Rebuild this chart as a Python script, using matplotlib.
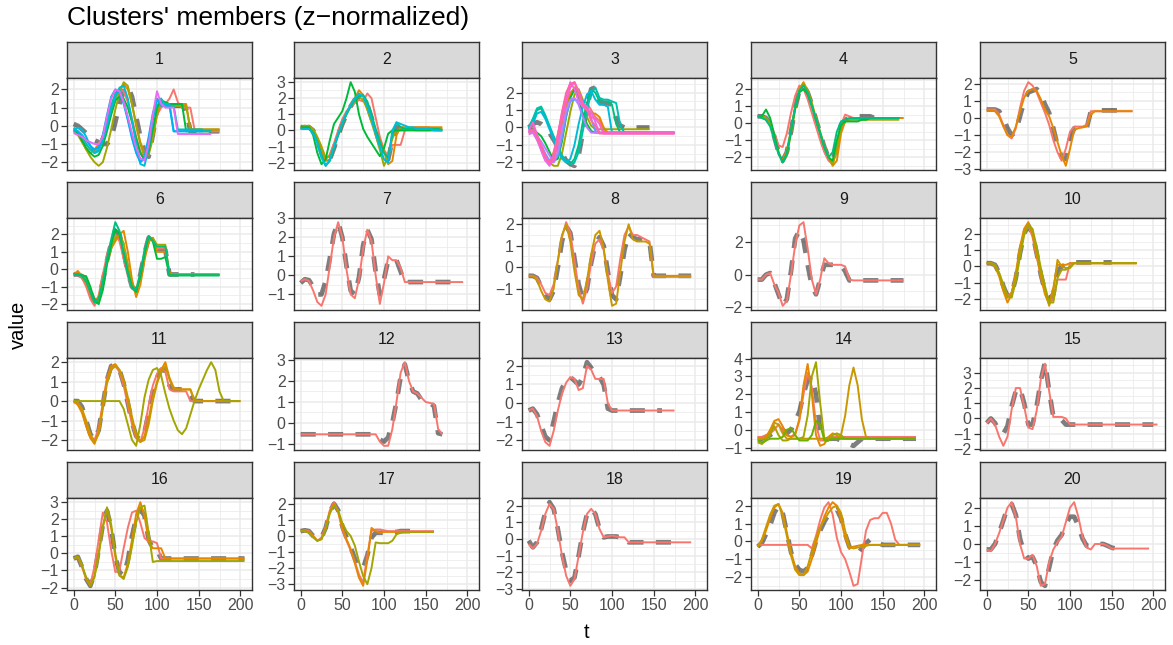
import matplotlib
matplotlib.use('Agg')
import matplotlib.pyplot as plt

plt.rcParams['font.family'] = ['Liberation Sans', 'DejaVu Sans']

# ggplot hue palette, series are coloured by their index inside a cluster
hue = ['#F8766D', '#E58700', '#C99800', '#A3A500', '#6BB100', '#00BA38', '#00BF7D', '#00C0AF',
       '#00BCD8', '#00B0F6', '#619CFF', '#B983FF', '#E76BF3', '#FD61D1', '#FF67A4']

STEP = 5  # one value every 5 time units, starting at t = 0

# ---- cluster 1
c1 = [0.1, 0.0, -0.2, -0.4, -0.6, -0.8, -0.9, -1.0, -1.0, -0.7, 0.2, 1.2, 1.9, 2.2, 1.6, 0.5, -0.6, -1.4,
      -1.7, -0.5, 0.9, 1.3, 1.2, 1.1, 1.1, 1.1, 1.1, 0.9, -0.3, -0.3, -0.3, -0.3, -0.3, -0.3, -0.3, -0.3]
m1 = [
    [-0.3, -0.4, -0.7, -1.0, -1.3, -1.4, -1.1, -0.5, 0.3, 1.1, 1.7, 2.0, 1.9, 1.3, 0.4, -0.6, -1.4, -1.8, -1.5,
     -0.5, 0.6, 1.0, 1.2, 1.5, 2.0, 1.3, 1.0, 1.0, 1.0, -0.2, -0.3, -0.3, -0.3, -0.3, -0.3, -0.3],
    [-0.2, -0.4, -0.8, -1.3, -1.5, -1.3, -1.0, -0.6, 0.0, 0.7, 1.4, 2.0, 2.3, 2.0, 1.2, 0.1, -0.9, -1.5, -1.4,
     -0.6, 0.6, 1.3, 1.2, 1.2, 1.2, 1.2, 1.2, 1.2, -0.2, -0.2, -0.2, -0.2, -0.2, -0.2, -0.2, -0.2],
    [-0.3, -0.5, -0.9, -1.3, -1.7, -2.0, -2.2, -2.0, -1.2, -0.2, 0.9, 1.8, 2.4, 2.2, 1.2, 0.0, -1.0, -1.7, -1.6,
     -0.7, 0.7, 1.4, 1.2, 1.1, 1.1, 1.1, 1.1, 1.1, -0.2, -0.2, -0.2, -0.2, -0.2, -0.2, -0.2, -0.2],
    [-0.2, -0.4, -0.8, -1.2, -1.5, -1.7, -1.6, -1.1, -0.3, 0.6, 1.4, 1.6, 1.5, 1.0, 0.2, -0.7, -1.5, -1.9, -1.4,
     -0.2, 1.0, 1.4, 1.3, 1.2, 1.2, 1.2, 1.2, -0.3, -0.3, -0.3, -0.3, -0.3, -0.3, -0.3],
    [-0.1, -0.3, -0.6, -1.0, -1.3, -1.5, -1.3, -0.7, 0.2, 1.1, 1.8, 2.0, 1.4, 0.4, -0.6, -1.4, -2.0, -1.8, -0.8,
     0.5, 1.4, 1.5, 1.1, 1.1, 1.1, -0.2, -0.2, -0.2, -0.2, -0.2, -0.2, -0.2],
    [-0.2, -0.1, -0.2, -0.6, -1.1, -1.5, -1.4, -0.8, 0.0, 0.9, 1.6, 2.1, 2.2, 1.5, 0.3, -1.0, -2.1, -2.2, -1.2,
     0.3, 1.4, 1.3, 1.2, 1.2, -0.3, -0.3, -0.3, -0.3, -0.3, -0.3, -0.3, -0.3, -0.3, -0.3],
    [-0.3, -0.3, -0.5, -0.8, -1.1, -1.3, -1.2, -0.5, 0.6, 1.6, 2.0, 1.8, 1.2, 0.3, -0.7, -1.5, -2.0, -1.7, -0.6,
     0.7, 1.5, 1.1, 1.1, 1.1, -0.3, -0.3, -0.3, -0.3, -0.3, -0.3, -0.3, -0.3],
    [-0.4, -0.5, -0.6, -0.8, -0.9, -1.0, -1.0, -0.6, 0.5, 1.5, 2.0, 1.9, 1.3, 0.5, -0.4, -1.2, -1.8, -1.9, -1.0,
     0.6, 1.9, 1.2, 1.0, 1.0, 1.0, -0.45, -0.45, -0.45, -0.45, -0.45, -0.45, -0.45, -0.45, -0.45],
]
k1 = [0, 1, 3, 5, 7, 8, 9, 12]
yt1 = [-2, -1, 0, 1, 2]

# ---- cluster 2
c2 = [0.2, 0.2, 0.2, 0.0, -0.6, -1.4, -2.0, -1.8, -1.1, -0.3, 0.4, 1.0, 1.5, 1.9, 2.1, 2.0, 1.6, 0.8, 0.0,
      -0.8, -1.5, -1.8, -0.6, 0.2, 0.1, 0.1, 0.1, 0.1, 0.1, 0.1, 0.1, 0.1, 0.1, 0.1, 0.1]
m2 = [
    [0.2, 0.2, 0.2, 0.0, -0.6, -1.3, -1.8, -1.5, -0.8, 0.0, 0.7, 1.2, 1.5, 1.7, 1.9, 1.8, 2.3, 2.0, 0.8, -0.4,
     -1.2, -1.6, -0.9, -0.9, -0.9, 0.0, 0.1, 0.1, 0.1, 0.1, 0.1, 0.1, 0.1, 0.1, 0.1],
    [0.2, 0.3, 0.2, 0.0, -0.5, -1.2, -1.9, -1.8, -1.0, -0.2, 0.5, 1.1, 1.6, 2.0, 2.5, 2.2, 1.6, 0.8, 0.0, -0.6,
     -1.3, -2.1, -1.9, -0.3, 0.2, 0.2, 0.2, 0.2, 0.2, 0.2, 0.2, 0.2, 0.2, 0.2, 0.2],
    [0.1, 0.2, 0.3, 0.1, -0.4, -1.0, -1.7, -1.6, -1.0, -0.3, 0.4, 1.0, 1.5, 1.9, 2.1, 1.9, 1.3, 0.5, -0.3, -1.2,
     -2.2, -1.6, -0.5, 0.0, 0.1, 0.1, 0.1, 0.1, 0.1, 0.1, 0.1, 0.1, 0.1, 0.1, 0.1],
    [0.2, 0.2, 0.2, -0.3, -1.4, -2.1, -1.8, -0.6, 0.4, 0.8, 1.2, 2.0, 3.0, 2.4, 1.0, 0.1, -0.4, -0.8, -1.2, -1.6,
     -1.1, -0.2, 0.0, 0.0, 0.0, 0.0, 0.0, 0.0, 0.0, 0.0, 0.0, 0.0, 0.0, 0.0, 0.0],
    [0.1, 0.1, 0.1, -0.1, -0.7, -1.5, -2.2, -1.9, -1.1, -0.3, 0.4, 1.0, 1.5, 1.9, 2.1, 2.2, 1.8, 1.0, 0.1, -0.7,
     -1.4, -1.7, -0.2, 0.5, 0.2, 0.1, 0.1, 0.1, 0.1, 0.1, 0.1, 0.1, 0.1, 0.1, 0.0],
    [0.1, 0.1, 0.1, -0.2, -0.8, -1.7, -2.2, -1.8, -1.0, -0.2, 0.5, 1.1, 1.6, 2.0, 2.3, 2.1, 1.5, 0.7, -0.2, -1.0,
     -1.8, -2.0, 0.0, 0.5, 0.4, 0.3, 0.2, 0.2, 0.1, 0.1, 0.1, 0.1, 0.0, 0.0, 0.0],
]
k2 = [0, 1, 3, 5, 6, 8]
yt2 = [-2, -1, 0, 1, 2, 3]

# ---- cluster 3
c3 = [0.0, 0.2, 0.3, 0.2, 0.0, -0.3, -0.7, -1.1, -1.5, -1.9, -2.1, -2.2, -1.6, -0.3, 1.2, 2.2, 2.3, 1.5,
      1.4, 1.4, 1.3, 0.5, 0.1, 0.0, 0.0, 0.0, 0.0, 0.0, 0.0, 0.0]
m3 = [
    [-0.3, 0.0, -0.6, -1.3, -1.9, -2.0, -1.4, -0.4, 0.7, 1.5, 2.0, 2.2, 1.8, 1.5, 1.4, 1.0, 0.6, 0.4, -0.2, -0.3,
     -0.3, -0.3, -0.3, -0.3, -0.3, -0.3, -0.3, -0.3, -0.3, -0.3, -0.3, -0.3, -0.3, -0.3, -0.3, -0.3],
    [-0.1, -0.2, -0.7, -1.2, -1.7, -2.0, -1.8, -1.0, 0.2, 1.2, 1.9, 2.3, 2.0, 1.4, 1.0, 0.8, 0.8, 0.6, 0.0, -0.3,
     -0.3, -0.3, -0.3, -0.3, -0.3, -0.3, -0.3, -0.3, -0.3, -0.3, -0.3, -0.3, -0.3, -0.3, -0.3, -0.3],
    [0.0, -0.2, -0.6, -1.1, -1.6, -2.0, -2.2, -2.2, -1.5, -0.3, 0.9, 1.9, 2.2, 1.6, 0.6, 0.1, -0.1, -0.1, -0.1,
     -0.1, -0.1, -0.1, -0.1, -0.1, -0.1, -0.1, -0.1, -0.1, -0.1, -0.1],
    [0.0, -0.1, -0.3, -0.5, -0.9, -1.4, -1.9, -1.8, -0.8, 0.6, 1.7, 2.2, 1.6, 0.8, 0.2, -0.2, -0.3, -0.3, -0.3,
     -0.3, -0.3, -0.3, -0.3, -0.3, -0.3, -0.3, -0.3, -0.3, -0.3, -0.3],
    [0.0, 0.4, 1.0, 1.1, 0.6, 0.0, -0.6, -1.2, -1.7, -2.0, -2.1, -1.8, -1.0, 0.3, 1.4, 2.2, 2.0, 1.5, 1.5, 1.5,
     1.3, 0.2, -0.3, -0.3, -0.3, -0.3, -0.3, -0.3, -0.3, -0.3, -0.3, -0.3, -0.3, -0.3, -0.3, -0.3],
    [0.0, 0.5, 1.1, 1.2, 0.7, 0.1, -0.5, -1.1, -1.6, -1.9, -2.1, -2.0, -1.4, -0.2, 1.0, 2.0, 2.3, 1.7, 1.6, 1.6,
     1.5, 1.4, 0.1, -0.3, -0.3, -0.3, -0.3, -0.3, -0.3, -0.3, -0.3, -0.3, -0.3, -0.3, -0.3, -0.3],
    [-0.1, 0.2, 0.8, 0.9, 0.5, -0.1, -0.7, -1.3, -1.8, -2.0, -1.8, -1.0, 0.2, 1.2, 1.9, 2.1, 1.6, 1.3, 1.3, 1.2,
     -0.3, -0.3, -0.3, -0.3, -0.3, -0.3, -0.3, -0.3, -0.3, -0.3, -0.3, -0.3, -0.3, -0.3, -0.3, -0.3],
    [-0.3, -0.2, -0.6, -1.0, -1.5, -1.9, -2.0, -1.6, -0.6, 0.7, 1.5, 1.6, 1.5, 1.4, 1.2, 0.5, -0.2, -0.3, -0.3,
     -0.3, -0.3, -0.3, -0.3, -0.3, -0.3, -0.3, -0.3, -0.3, -0.3, -0.3, -0.3, -0.3, -0.3, -0.3, -0.3, -0.3],
    [-0.2, -0.3, -0.5, -0.8, -1.2, -1.6, -2.0, -1.4, -0.2, 1.0, 1.6, 1.7, 1.3, 0.6, 0.0, -0.3, -0.3, -0.3, -0.3,
     -0.3, -0.3, -0.3, -0.3, -0.3, -0.3, -0.3, -0.3, -0.3, -0.3, -0.3, -0.3, -0.3, -0.3, -0.3, -0.3, -0.3],
    [-0.4, -0.3, -0.7, -1.3, -1.9, -2.2, -1.6, -0.4, 0.8, 1.8, 2.6, 2.2, 1.5, 1.2, 1.0, 0.9, 0.3, -0.3, -0.3,
     -0.3, -0.3, -0.3, -0.3, -0.3, -0.3, -0.3, -0.3, -0.3, -0.3, -0.3, -0.3, -0.3, -0.3, -0.3, -0.3, -0.3],
    [-0.2, 0.3, -0.4, -1.0, -1.6, -2.1, -1.9, -0.8, 0.5, 1.5, 2.3, 2.6, 2.1, 1.4, 1.2, 0.6, 0.5, 0.2, -0.35,
     -0.35, -0.35, -0.35, -0.35, -0.35, -0.35, -0.35, -0.35, -0.35, -0.35, -0.35, -0.35, -0.35, -0.35, -0.35,
     -0.35, -0.35],
    [-0.3, -0.1, -0.5, -1.1, -1.7, -2.0, -1.7, -0.5, 0.9, 2.0, 2.5, 2.6, 1.9, 1.3, 1.0, 0.4, 0.1, -0.35, -0.35,
     -0.35, -0.35, -0.35, -0.35, -0.35, -0.35, -0.35, -0.35, -0.35, -0.35, -0.35, -0.35, -0.35, -0.35, -0.35,
     -0.35, -0.35],
]
k3 = [0, 1, 3, 5, 6, 7, 8, 10, 11, 12, 13, 14]
yt3 = [-2, -1, 0, 1, 2]

# ---- cluster 4
c4 = [0.4, 0.4, 0.3, 0.0, -0.8, -1.7, -2.2, -1.7, -0.5, 0.9, 1.9, 2.2, 1.8, 1.1, 0.2, -0.6, -1.4, -2.0,
      -2.2, -1.3, -0.1, 0.2, 0.3, 0.4, 0.4, 0.4, 0.4, 0.4, 0.3, 0.3]
m4 = [
    [0.4, 0.4, 0.3, 0.0, -0.6, -1.3, -1.4, -0.6, 0.6, 1.6, 2.2, 2.0, 1.4, 0.6, -0.2, -1.0, -1.7, -2.2, -2.4,
     -1.5, -0.1, 0.5, 0.4, 0.3, 0.3, 0.3, 0.3, 0.3, 0.3, 0.3, 0.3, 0.3, 0.3, 0.3, 0.3, 0.3],
    [0.4, 0.4, 0.3, -0.1, -0.9, -1.8, -2.2, -1.6, -0.4, 0.9, 2.0, 2.4, 1.9, 1.1, 0.2, -0.6, -1.4, -2.0, -2.5,
     -2.2, -0.6, 0.1, 0.2, 0.3, 0.3, 0.3, 0.3, 0.3, 0.3, 0.3, 0.3, 0.3, 0.3, 0.3, 0.3, 0.3],
    [0.4, 0.4, 0.3, 0.0, -0.8, -1.7, -2.3, -1.9, -0.6, 0.8, 1.9, 2.3, 1.9, 1.2, 0.3, -0.5, -1.3, -2.0, -2.4,
     -1.6, -0.2, 0.1, 0.2, 0.2, 0.2, 0.2, 0.2, 0.2, 0.2, 0.2, 0.2, 0.2, 0.2, 0.2, 0.2],
    [0.4, 0.4, 0.8, 0.3, -0.7, -1.7, -2.3, -1.8, -0.5, 0.9, 1.8, 2.0, 1.7, 1.0, 0.2, -0.6, -1.4, -2.0, -2.2,
     -1.0, -0.1, 0.1, 0.1, 0.1, 0.1, 0.2, 0.2, 0.3, 0.3, 0.3, 0.3, 0.3, 0.3, 0.3, 0.3],
    [0.4, 0.3, 0.2, -0.2, -1.0, -1.8, -2.3, -1.8, -0.4, 1.0, 1.9, 2.2, 1.8, 1.0, 0.2, -0.6, -1.4, -2.0, -1.7,
     -0.5, 0.1, 0.2, 0.3, 0.3, 0.3, 0.3, 0.3, 0.3, 0.3, 0.3, 0.3, 0.3, 0.3, 0.3, 0.3],
]
k4 = [0, 1, 3, 5, 6]
yt4 = [-2, -1, 0, 1, 2]

# ---- cluster 5
c5 = [0.5, 0.5, 0.5, 0.4, 0.0, -0.6, -1.0, -0.8, 0.1, 1.0, 1.5, 1.6, 1.7, 1.4, 0.8, 0.3, -0.6, -1.6, -2.3,
      -2.4, -1.2, -0.6, -0.6, -0.6, -0.6, 0.4, 0.45, 0.45, 0.45, 0.45, 0.45, 0.45, 0.45, 0.45]
m5 = [
    [0.5, 0.5, 0.5, 0.2, -0.4, -1.0, -1.2, -0.6, 0.6, 1.6, 2.1, 1.9, 1.5, 0.9, 0.3, -0.4, -1.3, -2.0, -2.5,
     -1.8, -0.8, -0.5, -0.5, -0.5, -0.4, 0.4, 0.4, 0.4, 0.4, 0.4, 0.4, 0.4, 0.4, 0.4, 0.4, 0.4],
    [0.45, 0.45, 0.4, 0.1, -0.5, -1.0, -1.1, -0.5, 0.4, 1.2, 1.6, 1.7, 1.6, 1.1, 0.5, 0.1, -0.6, -1.4, -2.2,
     -2.8, -1.8, -0.7, -0.6, -0.55, -0.5, 0.2, 0.4, 0.4, 0.4, 0.4, 0.4, 0.4, 0.4, 0.4, 0.4, 0.4],
]
k5 = [0, 1]
yt5 = [-3, -2, -1, 0, 1, 2]

# ---- cluster 6
c6 = [-0.3, -0.3, -0.4, -0.7, -1.3, -1.9, -1.7, -0.7, 0.5, 1.5, 2.2, 2.0, 1.0, -0.2, -1.0, -1.2, -0.3, 0.9,
      1.8, 1.6, 1.1, 1.1, 1.1, -0.3, -0.3, -0.3, -0.3, -0.3, -0.3, -0.3]
m6 = [
    [-0.3, -0.3, -0.5, -1.0, -1.7, -2.1, -1.5, -0.3, 0.8, 1.6, 2.0, 1.6, 0.6, -0.4, -1.1, -1.2, -0.3, 1.0, 1.9,
     1.6, 1.2, 1.2, 1.2, -0.3, -0.3, -0.3, -0.3, -0.3, -0.3, -0.3, -0.3, -0.3, -0.3, -0.3, -0.3, -0.3],
    [-0.3, -0.1, -0.4, -0.8, -1.4, -1.9, -1.6, -0.6, 0.5, 1.2, 1.6, 2.0, 2.2, 1.0, -0.6, -1.6, -0.9, 0.5, 1.6,
     1.8, 1.0, 1.0, 1.0, -0.2, -0.3, -0.3, -0.3, -0.3, -0.3, -0.3, -0.3, -0.3, -0.3, -0.3, -0.3, -0.3],
    [-0.3, -0.3, -0.4, -0.5, -1.2, -1.9, -1.8, -0.9, 0.3, 1.2, 1.8, 2.0, 1.5, 0.2, -0.9, -1.3, -0.5, 0.8, 1.8,
     1.8, 1.4, 1.4, 1.4, -0.3, -0.3, -0.3, -0.3, -0.3, -0.3, -0.3, -0.3, -0.3, -0.3, -0.3, -0.3, -0.3],
    [-0.3, -0.3, -0.35, -0.4, -1.0, -1.8, -2.0, -1.2, 0.3, 1.4, 2.3, 2.0, 0.9, -0.2, -1.0, -1.3, -0.4, 0.9, 1.9,
     1.6, 0.6, 0.6, 0.7, -0.35, -0.35, -0.35, -0.35, -0.35, -0.35, -0.35, -0.35, -0.35, -0.35, -0.35, -0.35,
     -0.35],
    [-0.3, -0.3, -0.4, -0.7, -1.3, -1.9, -1.7, -0.7, 0.6, 1.7, 2.7, 2.2, 0.9, -0.3, -1.1, -1.2, -0.2, 1.1, 1.9,
     1.6, 1.3, 1.3, 1.3, -0.35, -0.35, -0.35, -0.35, -0.35, -0.35, -0.35, -0.35, -0.35, -0.35, -0.35, -0.35,
     -0.35],
]
k6 = [0, 1, 3, 5, 6]
yt6 = [-2, -1, 0, 1, 2, 3]

# ---- cluster 7
c7 = [-0.4, -0.2, -0.25, -0.6, -1.0, -1.0, -0.3, 0.9, 2.2, 2.8, 2.0, 0.5, -0.8, -1.0, -0.1, 1.6, 2.4, 1.9,
      0.2, -1.0, -0.2, 0.8, 0.8, 0.8, 0.2, -0.4, -0.35, -0.35, -0.35, -0.35, -0.35, -0.35, -0.35, -0.35,
      -0.35, -0.35, -0.35, -0.35, -0.35]
m7 = [
    [-0.3, -0.2, -0.3, -0.8, -1.4, -1.6, -1.0, 0.5, 2.0, 2.8, 2.0, 0.3, -1.0, -1.2, -0.2, 1.4, 2.4, 1.8, 0.0,
     -1.5, -0.4, 1.0, 0.8, 0.8, 0.4, -0.35, -0.35, -0.35, -0.35, -0.35, -0.35, -0.35, -0.35, -0.35, -0.35,
     -0.35, -0.35, -0.35, -0.35, -0.35],
]
k7 = [0]
yt7 = [-1, 0, 1, 2, 3]

# ---- cluster 8
c8 = [-0.4, -0.4, -0.5, -0.9, -1.3, -1.5, -1.1, 0.0, 1.2, 1.9, 1.6, 0.4, -0.8, -1.5, -1.0, 0.2, 1.1, 1.4,
      1.0, -0.2, -1.3, -1.5, -0.4, 0.8, 1.6, 1.4, 1.3, 1.3, 1.3, 1.2, -0.4, -0.4, -0.4, -0.4, -0.4, -0.4,
      -0.4, -0.4, -0.4, -0.4]
m8 = [
    [-0.4, -0.4, -0.5, -0.8, -1.2, -1.3, -0.8, 0.3, 1.4, 2.1, 1.6, 0.3, -1.0, -1.7, -1.0, 0.2, 1.1, 1.3, 0.8,
     -0.3, -1.2, -0.9, 0.4, 1.5, 1.9, 1.5, 1.5, 1.4, 1.3, 1.2, -0.45, -0.45, -0.45, -0.45, -0.45, -0.45, -0.45,
     -0.45, -0.45, -0.45],
    [-0.4, -0.4, -0.6, -1.1, -1.5, -1.6, -1.0, 0.3, 1.5, 2.0, 1.2, -0.2, -1.3, -1.5, -0.6, 0.6, 1.5, 1.7, 0.9,
     -0.6, -1.8, -1.7, -0.2, 1.2, 2.0, 1.3, 1.2, 1.2, 1.2, 1.1, -0.4, -0.4, -0.4, -0.4, -0.4, -0.4, -0.4, -0.4,
     -0.4, -0.4],
]
k8 = [0, 2]
yt8 = [-2, -1, 0, 1, 2]

# ---- cluster 9
c9 = [-0.3, -0.3, 0.0, 0.1, -0.5, -1.2, -1.9, -1.5, 0.2, 2.2, 2.7, 2.1, 0.6, -0.7, -1.2, -0.3, 0.6, 0.6,
      0.6, 0.6, 0.6, 0.2, -0.35, -0.35, -0.35, -0.35, -0.35, -0.35, -0.35, -0.35, -0.35, -0.35, -0.35,
      -0.35, -0.35, -0.35]
m9 = [
    [-0.3, -0.3, 0.0, 0.1, -0.6, -1.1, -1.9, -1.6, 0.0, 1.8, 3.0, 3.2, 1.6, -0.3, -1.2, -0.3, 1.0, 0.7, 0.6,
     0.6, 0.6, 0.5, -0.3, -0.35, -0.35, -0.35, -0.35, -0.35, -0.35, -0.35, -0.35, -0.35, -0.35, -0.35, -0.35,
     -0.35],
]
k9 = [0]
yt9 = [-2, 0, 2]

# ---- cluster 10
c10 = [0.2, 0.2, 0.1, -0.4, -1.2, -1.8, -1.7, -0.7, 0.8, 2.0, 2.5, 2.0, 0.8, -0.5, -1.5, -2.0, -1.7, -0.3,
       0.0, 0.1, 0.2, 0.25, 0.25, 0.25, 0.25, 0.25, 0.25, 0.25, 0.25, 0.25, 0.25]
m10 = [
    [0.2, 0.2, 0.1, -0.4, -1.2, -1.8, -1.6, -0.5, 1.0, 2.2, 2.5, 1.8, 0.6, -0.6, -1.6, -2.2, -2.0, -0.8, -0.8,
     -0.8, 0.2, 0.2, 0.2, 0.2, 0.2, 0.2, 0.2, 0.2, 0.2, 0.2, 0.2, 0.2, 0.2, 0.2, 0.2, 0.2, 0.2],
    [0.2, 0.2, 0.0, -0.6, -1.5, -2.2, -1.7, -0.4, 1.2, 2.3, 2.7, 2.0, 0.7, -0.6, -1.7, -2.3, -1.3, 0.1, 0.1,
     0.1, 0.2, 0.2, 0.2, 0.2, 0.2, 0.2, 0.2, 0.2, 0.2, 0.2, 0.2, 0.2, 0.2, 0.2, 0.2, 0.2, 0.2],
    [0.2, 0.2, 0.1, -0.5, -1.3, -1.9, -1.6, -0.6, 0.9, 2.1, 2.6, 2.1, 0.9, -0.4, -1.5, -2.4, -1.5, 0.4, 0.0,
     -0.1, -0.1, 0.2, 0.2, 0.2, 0.2, 0.2, 0.2, 0.2, 0.2, 0.2, 0.2, 0.2, 0.2, 0.2, 0.2, 0.2, 0.2],
    [0.2, 0.2, 0.1, -0.4, -1.1, -1.8, -1.9, -0.9, 0.6, 1.9, 2.5, 2.3, 1.2, -0.1, -1.2, -2.2, -2.2, -0.7, -0.2,
     -0.2, 0.0, 0.2, 0.2, 0.2, 0.2, 0.2, 0.2, 0.2, 0.2, 0.2, 0.2, 0.2, 0.2, 0.2, 0.2, 0.2, 0.2],
]
k10 = [0, 1, 2, 3]
yt10 = [-2, -1, 0, 1, 2]

# ---- cluster 11
c11 = [0.0, 0.0, -0.3, -1.0, -1.7, -2.0, -1.5, -0.2, 1.1, 1.8, 1.9, 1.6, 0.9, -0.1, -1.1, -1.8, -2.0, -1.6,
       -0.6, 0.5, 1.2, 1.6, 1.6, 0.8, 0.6, 0.6, 0.6, 0.6, 0.3, 0.0, 0.0, 0.0, 0.0, 0.0, 0.0, 0.0, 0.0, 0.0,
       0.0, 0.0, 0.0]
m11 = [
    [0.0, -0.1, -0.5, -1.2, -1.8, -2.0, -1.4, -0.1, 1.2, 1.7, 1.8, 1.5, 0.8, -0.2, -1.2, -1.9, -2.1, -1.4, -0.2,
     0.8, 1.4, 1.7, 1.5, 0.6, 0.5, 0.5, 0.5, 0.5, 0.0, 0.0, 0.0, 0.0, 0.0, 0.0, 0.0, 0.0, 0.0, 0.0, 0.0, 0.0,
     0.0],
    [0.0, -0.2, -0.6, -1.3, -1.9, -2.2, -1.6, -0.2, 1.1, 1.8, 1.9, 1.6, 1.0, 0.0, -1.0, -1.8, -2.1, -1.8, -0.9,
     0.2, 1.0, 1.6, 2.0, 1.2, 0.7, 0.6, 0.6, 0.6, 0.6, 0.0, 0.0, 0.0, 0.0, 0.0, 0.0, 0.0, 0.0, 0.0, 0.0, 0.0,
     0.0],
    [0.0, -0.1, -0.4, -1.0, -1.7, -2.1, -1.7, -0.4, 0.9, 1.6, 1.8, 1.6, 1.1, 0.2, -0.8, -1.7, -2.1, -2.0, -1.2,
     0.0, 0.9, 1.5, 1.8, 1.1, 0.6, 0.6, 0.6, 0.6, 0.6, 0.05, 0.0, 0.0, 0.0, 0.0, 0.0, 0.0, 0.0, 0.0, 0.0, 0.0,
     0.0],
    [0.0, 0.0, 0.0, 0.0, 0.0, 0.0, 0.0, 0.0, 0.0, 0.0, 0.0, 0.0, -0.4, -1.2, -2.0, -2.3, -1.2, 0.2, 1.1, 1.6,
     1.7, 1.3, 0.4, -0.4, -1.0, -1.5, -1.7, -1.4, -0.7, 0.0, 0.6, 1.1, 1.6, 2.0, 1.6, 0.5, 0.0, 0.0, 0.0, 0.0,
     0.0],
]
k11 = [0, 1, 2, 3]
yt11 = [-2, -1, 0, 1, 2]

# ---- cluster 12
c12 = [-0.55, -0.55, -0.55, -0.55, -0.55, -0.55, -0.55, -0.55, -0.55, -0.55, -0.55, -0.55, -0.55, -0.55,
       -0.55, -0.55, -0.55, -0.55, -0.55, -0.8, -0.9, -0.7, 0.0, 1.0, 2.2, 2.8, 2.0, 1.5, 1.4, 1.1, 1.0,
       0.95, 0.8, -0.5, -0.55]
m12 = [
    [-0.55, -0.55, -0.55, -0.55, -0.55, -0.55, -0.55, -0.55, -0.55, -0.55, -0.55, -0.55, -0.55, -0.55, -0.55,
     -0.55, -0.55, -0.55, -0.55, -0.9, -1.1, -1.1, -0.3, 1.0, 2.4, 2.9, 2.0, 1.5, 1.4, 1.2, 1.0, 0.95, 0.9,
     -0.3, -0.55],
]
k12 = [0]
yt12 = [-1, 0, 1, 2, 3]

# ---- cluster 13
c13 = [-0.4, -0.3, -0.6, -1.2, -1.8, -2.0, -1.0, 0.0, 0.8, 1.2, 1.4, 1.2, 1.0, 1.4, 2.2, 1.9, 1.5, 1.4,
       1.0, -0.3, -0.4, -0.4, -0.4, -0.4, -0.4, -0.4, -0.4, -0.4, -0.4, -0.4, -0.4, -0.4, -0.4]
m13 = [
    [-0.4, -0.3, -0.7, -1.5, -2.1, -2.3, -1.5, -0.4, 0.5, 1.1, 1.4, 1.3, 0.7, 0.8, 2.0, 1.8, 1.3, 1.3, 1.3, 0.0,
     -0.4, -0.4, -0.4, -0.4, -0.4, -0.4, -0.4, -0.4, -0.4, -0.4, -0.4, -0.4, -0.4, -0.4, -0.4, -0.4],
]
k13 = [0]
yt13 = [-2, -1, 0, 1, 2]

# ---- cluster 14
c14 = [-0.5, -0.5, -0.4, -0.3, -0.1, 0.1, 0.0, -0.2, 0.0, 0.5, 1.0, 2.0, 2.8, 3.0, 2.0, 0.0, -0.6, -0.5,
       -0.5, -0.5, -0.6, -0.7, -0.8, -0.9, -0.7, -0.5, -0.5, -0.5, -0.5, -0.5, -0.5, -0.5, -0.5, -0.5, -0.5,
       -0.5, -0.5, -0.5, -0.5]
m14 = [
    [-0.4, -0.4, -0.3, -0.2, 0.0, 0.3, 0.0, -0.3, -0.4, -0.2, 0.5, 2.0, 3.2, 2.4, 0.3, -0.6, -0.6, -0.5, -0.4,
     -0.4, -0.4, -0.4, -0.4, -0.4, -0.4, -0.4, -0.4, -0.4, -0.4, -0.4, -0.4, -0.4, -0.4, -0.4, -0.4, -0.4,
     -0.4, -0.4, -0.4],
    [-0.5, -0.5, -0.4, 0.0, 0.5, 0.6, 0.2, -0.3, -0.4, -0.3, 0.6, 2.5, 3.7, 2.0, -0.3, -0.9, -0.8, -0.4, -0.2,
     -0.3, -0.5, -0.5, -0.5, -0.5, -0.5, -0.5, -0.5, -0.5, -0.5, -0.5, -0.5, -0.5, -0.5, -0.5, -0.5, -0.5,
     -0.5, -0.5, -0.5],
    [-0.5, -0.5, -0.5, -0.3, 0.4, 0.3, -0.2, -0.5, -0.5, -0.5, -0.5, -0.5, -0.5, -0.5, -0.5, -0.5, -0.5, -0.5,
     -0.5, -0.5, -0.3, 0.8, 2.5, 3.5, 2.5, 0.6, -0.4, -0.5, -0.5, -0.5, -0.5, -0.5, -0.5, -0.5, -0.5, -0.5,
     -0.5, -0.5, -0.5],
    [-0.7, -0.8, -0.6, -0.2, 0.2, -0.3, -0.6, -0.6, -0.5, -0.5, -0.5, -0.4, 0.8, 3.0, 3.8, 1.5, -0.5, -0.6,
     -0.3, -0.2, -0.3, -0.5, -0.5, -0.5, -0.5, -0.5, -0.5, -0.5, -0.5, -0.5, -0.5, -0.5, -0.5, -0.5, -0.5,
     -0.5, -0.5, -0.5, -0.5],
    [-0.6, -0.7, -0.6, -0.5, -0.5, -0.5, -0.4, 0.0, 0.1, -0.3, -0.6, -0.6, -0.6, -0.3, 0.5, 0.3, -0.6, -0.6,
     -0.5, -0.5, -0.5, -0.5, -0.5, -0.5, -0.5, -0.5, -0.5, -0.5, -0.5, -0.5, -0.5, -0.5, -0.5, -0.5, -0.5,
     -0.5, -0.5, -0.5, -0.5],
]
k14 = [0, 1, 2, 3, 4]
yt14 = [-1, 0, 1, 2, 3, 4]

# ---- cluster 15
c15 = [-0.3, 0.0, -0.3, -0.8, -1.0, -0.5, 0.8, 1.8, 2.0, 1.0, -0.4, -0.4, 0.8, 2.5, 3.7, 1.8, 0.1, 0.1,
       -0.1, -0.4, -0.4, -0.4, -0.4, -0.4, -0.4, -0.4, -0.4, -0.4, -0.4, -0.4, -0.4, -0.4, -0.4, -0.4, -0.4,
       -0.4, -0.4, -0.4, -0.4, -0.4, -0.4]
m15 = [
    [-0.3, 0.0, -0.4, -1.2, -1.8, -1.2, 0.6, 2.0, 2.0, 0.8, -0.6, -0.7, 0.5, 2.6, 3.6, 1.8, 0.1, 0.1, 0.1, 0.0,
     -0.4, -0.4, -0.4, -0.4, -0.4, -0.4, -0.4, -0.4, -0.4, -0.4, -0.4, -0.4, -0.4, -0.4, -0.4, -0.4, -0.4,
     -0.4, -0.4, -0.4, -0.4, -0.4],
]
k15 = [0]
yt15 = [-2, -1, 0, 1, 2, 3]

# ---- cluster 16
c16 = [-0.3, -0.2, -0.8, -1.5, -1.9, -1.2, 0.2, 1.7, 2.5, 1.5, -0.2, -1.1, -1.3, -0.4, 1.0, 2.1, 2.6, 2.2,
       0.8, 0.3, 0.2, -0.3, -0.3, -0.3, -0.3, -0.3, -0.3, -0.3, -0.3, -0.3, -0.3, -0.3, -0.3, -0.3, -0.3,
       -0.3, -0.3, -0.3, -0.3, -0.3, -0.3, -0.3]
m16 = [
    [-0.3, -0.2, -0.8, -1.5, -1.8, -0.8, 0.8, 2.4, 1.8, 0.2, -1.1, -1.0, 0.3, 1.5, 2.4, 2.5, 1.8, 0.9, 0.7,
     0.7, 0.6, -0.3, -0.3, -0.3, -0.3, -0.3, -0.3, -0.3, -0.3, -0.3, -0.3, -0.3, -0.3, -0.3, -0.3, -0.3, -0.3,
     -0.3, -0.3, -0.3, -0.3, -0.3],
    [-0.3, -0.2, -0.7, -1.5, -1.9, -1.3, 0.0, 1.6, 2.6, 1.5, -0.2, -1.3, -1.4, -0.6, 0.8, 2.3, 3.0, 2.2, 0.7,
     0.3, 0.3, 0.3, -0.3, -0.3, -0.3, -0.3, -0.3, -0.3, -0.3, -0.3, -0.3, -0.3, -0.3, -0.3, -0.3, -0.3, -0.3,
     -0.3, -0.3, -0.3, -0.3, -0.3],
    [-0.3, -0.2, -0.7, -1.4, -1.9, -1.4, -0.1, 1.5, 2.7, 1.7, 0.0, -1.3, -1.5, -0.8, 0.4, 1.8, 2.7, 2.8, 1.2,
     -0.5, -0.45, -0.45, -0.45, -0.45, -0.45, -0.45, -0.45, -0.45, -0.45, -0.45, -0.45, -0.45, -0.45, -0.45,
     -0.45, -0.45, -0.45, -0.45, -0.45, -0.45, -0.45, -0.45],
]
k16 = [0, 1, 3]
yt16 = [-2, -1, 0, 1, 2, 3]

# ---- cluster 17
c17 = [0.3, 0.35, 0.3, 0.0, -0.2, -0.1, 0.5, 1.5, 2.0, 1.6, 0.6, -0.1, -0.7, -1.4, -2.0, -2.0, -1.2, -0.1,
       0.2, 0.2, 0.2, 0.25, 0.25, 0.25, 0.3, 0.3, 0.3, 0.3, 0.3, 0.3]
m17 = [
    [0.3, 0.35, 0.3, 0.0, -0.3, -0.1, 0.6, 1.6, 2.1, 1.5, 0.4, -0.3, -0.9, -1.6, -2.4, -2.9, -1.2, 0.3, 0.4,
     0.4, 0.35, 0.3, 0.3, 0.3, 0.3, 0.3, 0.3, 0.3, 0.3, 0.3, 0.3, 0.3, 0.3],
    [0.3, 0.3, 0.25, 0.0, -0.3, -0.2, 0.5, 1.5, 2.0, 1.5, 0.5, -0.2, -0.8, -1.7, -2.6, -3.1, -1.5, 0.5, 0.3,
     0.2, 0.25, 0.25, 0.25, 0.25, 0.25, 0.25, 0.25, 0.25, 0.25, 0.25, 0.25, 0.25, 0.25],
    [0.3, 0.3, 0.2, -0.1, -0.3, -0.2, 0.4, 1.4, 1.9, 1.6, 0.8, 0.3, 0.0, -0.6, -1.6, -2.5, -3.0, -2.0, -0.4,
     -0.45, -0.45, -0.45, -0.3, 0.1, 0.2, 0.25, 0.25, 0.25, 0.25, 0.25, 0.25, 0.25, 0.25],
]
k17 = [0, 1, 3]
yt17 = [-3, -2, -1, 0, 1, 2]

# ---- cluster 18
c18 = [-0.1, -0.5, -0.2, 0.6, 1.6, 2.2, 1.8, 0.6, -0.8, -1.9, -2.5, -2.3, -1.0, 0.4, 1.5, 1.8, 1.5, 0.6,
       0.1, 0.15, 0.15, 0.15, 0.1, 0.1, -0.2, -0.2, -0.2, -0.2, -0.2, -0.2, -0.2, -0.2, -0.2, -0.2, -0.2,
       -0.2]
m18 = [
    [-0.3, -0.55, -0.3, 0.5, 1.5, 2.1, 1.8, 0.5, -1.0, -2.2, -2.8, -2.4, -1.0, 0.4, 1.5, 1.8, 1.5, 0.6, 0.1,
     0.15, 0.2, 0.15, 0.1, 0.1, -0.2, -0.2, -0.2, -0.2, -0.2, -0.2, -0.2, -0.2, -0.2, -0.2, -0.2, -0.2, -0.2,
     -0.2, -0.2, -0.2],
]
k18 = [0]
yt18 = [-3, -2, -1, 0, 1, 2]

# ---- cluster 19
c19 = [-0.3, -0.1, 0.4, 0.9, 1.6, 2.0, 1.6, 0.5, -0.6, -1.3, -1.6, -1.7, -1.5, -0.8, 0.0, 0.6, 1.1, 1.5,
       1.7, 1.8, 1.3, 0.4, -0.3, -0.6, -0.7, -0.4, -0.1, 0.1, 0.1, -0.1, -0.2, -0.2, -0.2, -0.2, -0.2, -0.2,
       -0.2, -0.2, -0.2, -0.2]
m19 = [
    [-0.2, -0.2, -0.2, -0.2, -0.2, -0.2, -0.2, -0.2, -0.2, -0.2, -0.2, -0.2, -0.2, -0.4, 0.3, 1.2, 1.9, 2.2,
     1.5, 0.2, -0.6, -1.0, -1.7, -2.5, -2.4, -0.9, 0.6, 1.2, 1.3, 1.3, 1.6, 1.6, 1.0, 0.1, -0.2, -0.2, -0.2,
     -0.2, -0.2, -0.2],
    [-0.3, 0.0, 0.6, 1.3, 1.9, 2.1, 1.6, 0.5, -0.6, -1.4, -1.8, -1.9, -1.7, -1.0, -0.1, 0.7, 1.4, 1.9, 2.2, 2.0,
     1.2, 0.2, -0.4, -0.3, -0.25, -0.2, -0.2, -0.2, -0.2, -0.2, -0.2, -0.2, -0.2, -0.2, -0.2, -0.2, -0.2,
     -0.2, -0.2, -0.2],
    [-0.3, 0.1, 0.8, 1.5, 2.0, 2.1, 1.4, 0.3, -0.8, -1.6, -1.9, -1.9, -1.4, -0.6, 0.2, 0.8, 1.2, 1.6, 1.9, 2.0,
     1.6, 0.6, -0.3, -0.4, -0.35, -0.3, -0.25, -0.2, -0.2, -0.2, -0.2, -0.2, -0.2, -0.2, -0.2, -0.2, -0.2,
     -0.2, -0.2, -0.2],
]
k19 = [0, 1, 2]
yt19 = [-2, -1, 0, 1, 2]

# ---- cluster 20
c20 = [-0.3, -0.3, 0.0, 0.6, 1.3, 2.0, 2.2, 1.6, 0.3, -0.5, -0.8, -0.7, -1.2, -2.1, -2.3, -1.3, -0.3, 0.2,
       0.5, 1.1, 1.5, 1.5, 1.0, 0.3, -0.1, -0.1, 0.0, 0.0, 0.0, -0.1, -0.2, -0.25, -0.25]
m20 = [
    [-0.3, -0.4, 0.0, 0.6, 1.3, 2.0, 2.3, 1.5, 0.0, -0.8, -0.8, -0.6, -1.2, -2.3, -2.2, -1.0, -0.3, 0.1, 0.4,
     1.2, 2.0, 2.3, 1.5, 0.4, -0.2, -0.3, 0.0, 0.0, 0.0, -0.1, -0.25, -0.25, -0.25, -0.25, -0.25, -0.25,
     -0.25, -0.25, -0.25, -0.25],
]
k20 = [0]
yt20 = [-2, -1, 0, 1, 2]

panels = [
    (c1, m1, k1, yt1), (c2, m2, k2, yt2), (c3, m3, k3, yt3), (c4, m4, k4, yt4), (c5, m5, k5, yt5),
    (c6, m6, k6, yt6), (c7, m7, k7, yt7), (c8, m8, k8, yt8), (c9, m9, k9, yt9), (c10, m10, k10, yt10),
    (c11, m11, k11, yt11), (c12, m12, k12, yt12), (c13, m13, k13, yt13), (c14, m14, k14, yt14),
    (c15, m15, k15, yt15), (c16, m16, k16, yt16), (c17, m17, k17, yt17), (c18, m18, k18, yt18),
    (c19, m19, k19, yt19), (c20, m20, k20, yt20),
]

W, H = 1173, 645
fig = plt.figure(figsize=(W / 100, H / 100), dpi=100)

col_x = [67, 294, 522, 751, 980]   # left edge of each facet column, px
row_y = [42, 182, 322, 462]        # top edge of each strip, px
pw, sh, ph = 185, 36, 92           # panel width, strip height, panel height
border = '#333333'

for n, (cent, membs, cols, yt) in enumerate(panels):
    r, c = divmod(n, 5)
    x0, y0 = col_x[c], row_y[r]

    sax = fig.add_axes([x0 / W, 1 - (y0 + sh) / H, pw / W, sh / H])
    sax.set_facecolor('#D9D9D9')
    sax.set_xticks([])
    sax.set_yticks([])
    for s in sax.spines.values():
        s.set_color(border)
        s.set_linewidth(1.0)
    sax.text(0.5, 0.5, str(n + 1), transform=sax.transAxes, ha='center', va='center',
             fontsize=11.5, color='#1A1A1A')

    ax = fig.add_axes([x0 / W, 1 - (y0 + sh + ph) / H, pw / W, ph / H])
    # centroid first (grey dashed), members drawn over it
    tc = [STEP * i for i in range(len(cent))]
    ax.plot(tc, cent, color='black', alpha=0.5, lw=3.4, dashes=(3.2, 2.6), dash_capstyle='butt')
    for vals, k in zip(membs, cols):
        t = [STEP * i for i in range(len(vals))]
        ax.plot(t, vals, color=hue[k], lw=1.4, solid_capstyle='butt')

    ax.set_xlim(-8, 214)
    ax.margins(y=0.05)
    lo, hi = ax.get_ylim()

    ax.set_xticks([0, 50, 100, 150, 200])
    ax.set_xticks([25, 75, 125, 175], minor=True)
    ax.set_yticks(yt)
    d = yt[1] - yt[0]
    ymin = [v + d / 2 for v in [yt[0] - d] + yt]
    ax.set_yticks([v for v in ymin if lo < v < hi], minor=True)
    ax.set_ylim(lo, hi)

    ax.grid(True, which='major', color='#EBEBEB', lw=1.1)
    ax.grid(True, which='minor', color='#EBEBEB', lw=0.55)
    ax.set_axisbelow(True)
    ax.tick_params(which='minor', length=0)
    ax.tick_params(which='major', length=4, width=0.9, color=border, labelsize=11.5,
                   labelcolor='#4D4D4D', pad=2)
    if r < 3:
        ax.tick_params(axis='x', which='both', bottom=False, labelbottom=False)
    for s in ax.spines.values():
        s.set_color(border)
        s.set_linewidth(1.0)

fig.text(67 / W, 1 - 18 / H, "Clusters' members (z\u2212normalized)", ha='left', va='center',
         fontsize=19, color='black')
fig.text(18 / W, 1 - 325 / H, 'value', rotation=90, ha='center', va='center', fontsize=14.5)
fig.text(587 / W, 1 - 632 / H, 't', ha='center', va='center', fontsize=14.5)

fig.savefig('out.png', dpi=100)
